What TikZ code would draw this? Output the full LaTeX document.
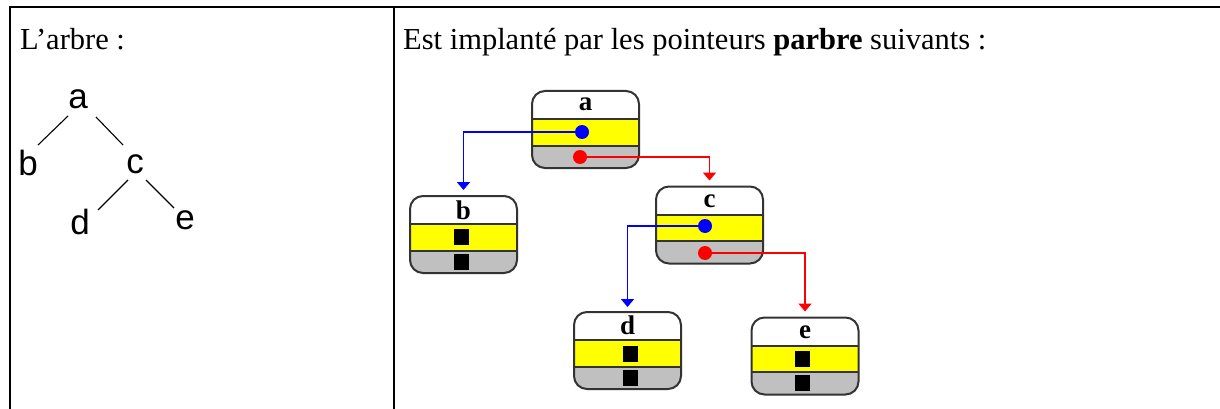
\documentclass[tikz,border=0pt]{standalone}
\usepackage{fontspec}
\setmainfont{Liberation Serif}
\newfontfamily\treefont{Liberation Sans}
\usetikzlibrary{calc,arrows.meta}
\definecolor{ptryellow}{RGB}{255,255,0}
\definecolor{ptrgrey}{RGB}{192,192,192}
\definecolor{ptrblue}{RGB}{0,0,255}
\definecolor{ptrred}{RGB}{255,0,0}
\tikzset{
  gridline/.style={line width=2pt,black},
  headtext/.style={anchor=base west,inner sep=0,font=\fontsize{30.5}{36}\selectfont},
  treeletter/.style={inner sep=0,font=\treefont\fontsize{35}{40}\selectfont},
  treeline/.style={line width=1.1pt,black},
  recbox/.style={draw=black!80,line width=2pt,rounded corners=13pt,inner sep=0,
    minimum width=107pt,minimum height=77pt,fill=white,
    path picture={
      \begin{scope}[sharp corners]
      \fill[ptryellow] ($(path picture bounding box.north west)!0.364!(path picture bounding box.south west)$)
        rectangle ($(path picture bounding box.north east)!0.714!(path picture bounding box.south east)$);
      \fill[ptrgrey] ($(path picture bounding box.north west)!0.714!(path picture bounding box.south west)$)
        rectangle (path picture bounding box.south east);
      \draw[black!80,line width=2pt]
        ($(path picture bounding box.north west)!0.364!(path picture bounding box.south west)$) --
        ($(path picture bounding box.north east)!0.364!(path picture bounding box.south east)$);
      \draw[black!80,line width=2pt]
        ($(path picture bounding box.north west)!0.714!(path picture bounding box.south west)$) --
        ($(path picture bounding box.north east)!0.714!(path picture bounding box.south east)$);
      \end{scope}
    }},
  boxletter/.style={anchor=base,inner sep=0,font=\bfseries\fontsize{27}{30}\selectfont},
  ptrdot/.style={circle,inner sep=0,minimum size=14pt},
  nilsq/.style={fill=black,inner sep=0,minimum width=15pt,minimum height=16pt},
  wire/.style={line width=1.8pt,-{Triangle[width=13pt,length=8pt]}},
}
\begin{document}
\begin{tikzpicture}[x=1pt,y=-1pt]
\useasboundingbox (0,0) rectangle (1220,409);
% table grid
\draw[gridline] (10,7) -- (1220,7);
\draw[gridline] (10,6) -- (10,409);
\draw[gridline] (393.5,6) -- (393.5,409);
% headings
\node[headtext] (h1) at (20,50) {L’arbre :};
\node[headtext] (h2) at (403,50) {Est implanté par les pointeurs \textbf{parbre} suivants :};
% abstract tree
\node[treeletter] (ta) at (78,99) {a};
\node[treeletter] (tb) at (28,163) {b};
\node[treeletter] (tc) at (135,164) {c};
\node[treeletter] (td) at (80,222) {d};
\node[treeletter] (te) at (185,220) {e};
\draw[treeline] ($(ta.center)+(-10,17)$) -- ($(tb.center)+(10,-18)$);
\draw[treeline] ($(ta.center)+(18,18)$) -- ($(tc.center)+(-12,-19)$);
\draw[treeline] ($(tc.center)+(-7,16)$) -- ($(td.center)+(18,-12)$);
\draw[treeline] ($(tc.center)+(11,16)$) -- ($(te.center)+(-11,-12)$);
% record boxes
\node[recbox] (a) at (585.5,129.5) {};
\node[recbox] (b) at (463.5,234.5) {};
\node[recbox] (c) at (709.5,225) {};
\node[recbox] (d) at (627.5,350.5) {};
\node[recbox] (e) at (805,356) {};
\node[boxletter] (al) at ($(a.north)+(0,21)$) {a};
\node[boxletter] (bl) at ($(b.north)+(0,24)$) {b};
\node[boxletter] (cl) at ($(c.north)+(0,22)$) {c};
\node[boxletter] (dl) at ($(d.north)+(0,23)$) {d};
\node[boxletter] (el) at ($(e.north)+(0,22)$) {e};
% pointer dots
\node[ptrdot] (ab) at (582,132) {};
\node[ptrdot] (ar) at (580,157) {};
\node[ptrdot] (cb) at (705,226) {};
\node[ptrdot] (cr) at (705,253) {};
% wires
\draw[wire,ptrblue,shorten >=5pt] (ab.center) -| (b.north);
\draw[wire,ptrred,shorten >=5pt] (ar.center) -| (c.north);
\draw[wire,ptrblue,shorten >=4pt] (cb.center) -| (d.north);
\draw[wire,ptrred,shorten >=5pt] (cr.center) -| (e.north);
\fill[ptrblue] (ab) circle (7pt);
\fill[ptrred] (ar) circle (7pt);
\fill[ptrblue] (cb) circle (7pt);
\fill[ptrred] (cr) circle (7pt);
% nil pointers
\node[nilsq] (b1) at (461,237) {};
\node[nilsq] (b2) at (461,262) {};
\node[nilsq] (d1) at (630,353.5) {};
\node[nilsq] (d2) at (630,378) {};
\node[nilsq] (e1) at (802,359) {};
\node[nilsq] (e2) at (802,383) {};
\end{tikzpicture}
\end{document}
